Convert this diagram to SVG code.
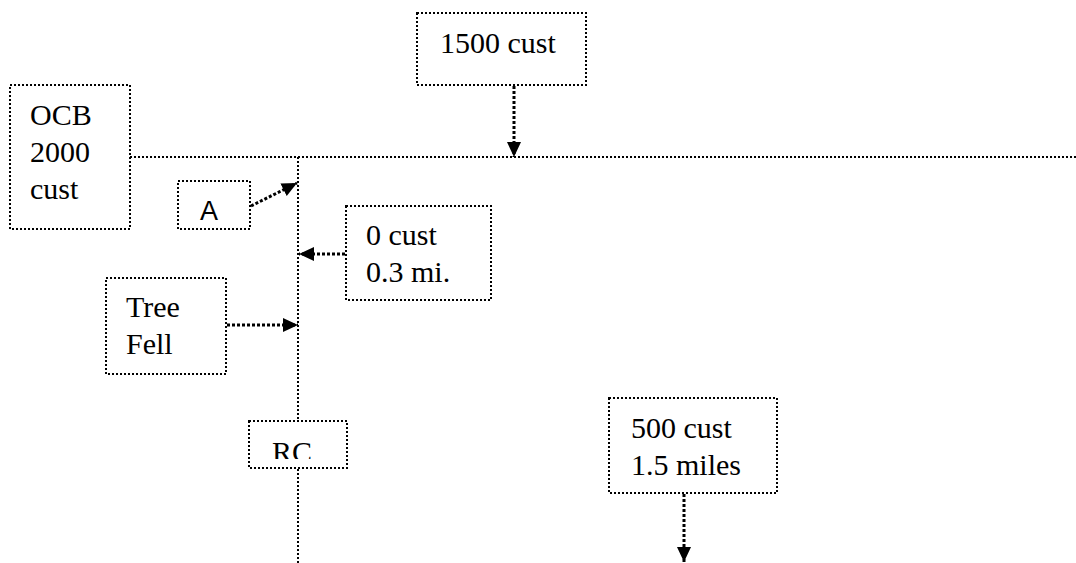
<svg xmlns="http://www.w3.org/2000/svg" width="1076" height="563" viewBox="0 0 1076 563">
<style>
.box{fill:#fff;stroke:#000;stroke-width:2;stroke-dasharray:2 2}
.ln{fill:none;stroke:#000;stroke-width:2;stroke-dasharray:2 2}
.ar{fill:none;stroke:#000;stroke-width:3;stroke-dasharray:3 2}
text{font-family:"Liberation Serif","Times New Roman",serif;font-size:30px;fill:#000}
.sans{font-family:"Liberation Sans",Arial,sans-serif;font-size:27px}
</style>
<defs>
<marker id="ah" markerUnits="userSpaceOnUse" markerWidth="16" markerHeight="16" refX="15" refY="7" orient="auto" viewBox="0 0 16 14">
<path d="M0,0 L15,7 L0,14 z" fill="#000"/>
</marker>
<clipPath id="rcclip"><rect x="249" y="421" width="98" height="38"/></clipPath>
</defs>
<rect width="1076" height="563" fill="#fff"/>
<g id="connectors">
<line class="ln" x1="130" y1="157" x2="1076" y2="157"/>
<line class="ln" x1="298" y1="157" x2="298" y2="563"/>
<line class="ar" x1="514" y1="86" x2="514" y2="157" marker-end="url(#ah)"/>
<line class="ar" x1="251" y1="206" x2="297" y2="183" marker-end="url(#ah)"/>
<line class="ar" x1="345" y1="254" x2="299" y2="254" marker-end="url(#ah)"/>
<line class="ar" x1="227" y1="325" x2="298" y2="325" marker-end="url(#ah)"/>
<line class="ar" x1="684" y1="494" x2="684" y2="562" marker-end="url(#ah)"/>
</g>
<g id="n1500">
<rect class="box" x="417" y="13" width="169" height="72"/>
<text x="440" y="53">1500 cust</text>
</g>
<g id="ocb">
<rect class="box" x="10" y="85" width="120" height="144"/>
<text x="30" y="125">OCB</text>
<text x="30" y="162">2000</text>
<text x="30" y="199">cust</text>
</g>
<g id="a">
<rect class="box" x="178" y="181" width="72" height="48"/>
<text class="sans" x="200" y="220">A</text>
</g>
<g id="n0cust">
<rect class="box" x="346" y="206" width="145" height="94"/>
<text x="366" y="245">0 cust</text>
<text x="366" y="282">0.3 mi.</text>
</g>
<g id="tree">
<rect class="box" x="106" y="278" width="120" height="96"/>
<text x="126" y="317">Tree</text>
<text x="126" y="354">Fell</text>
</g>
<g id="rc">
<rect class="box" x="249" y="421" width="98" height="47"/>
<text x="272" y="462" clip-path="url(#rcclip)">RC</text>
</g>
<g id="n500">
<rect class="box" x="609" y="398" width="168" height="95"/>
<text x="631" y="438">500 cust</text>
<text x="631" y="475">1.5 miles</text>
</g>
</svg>
